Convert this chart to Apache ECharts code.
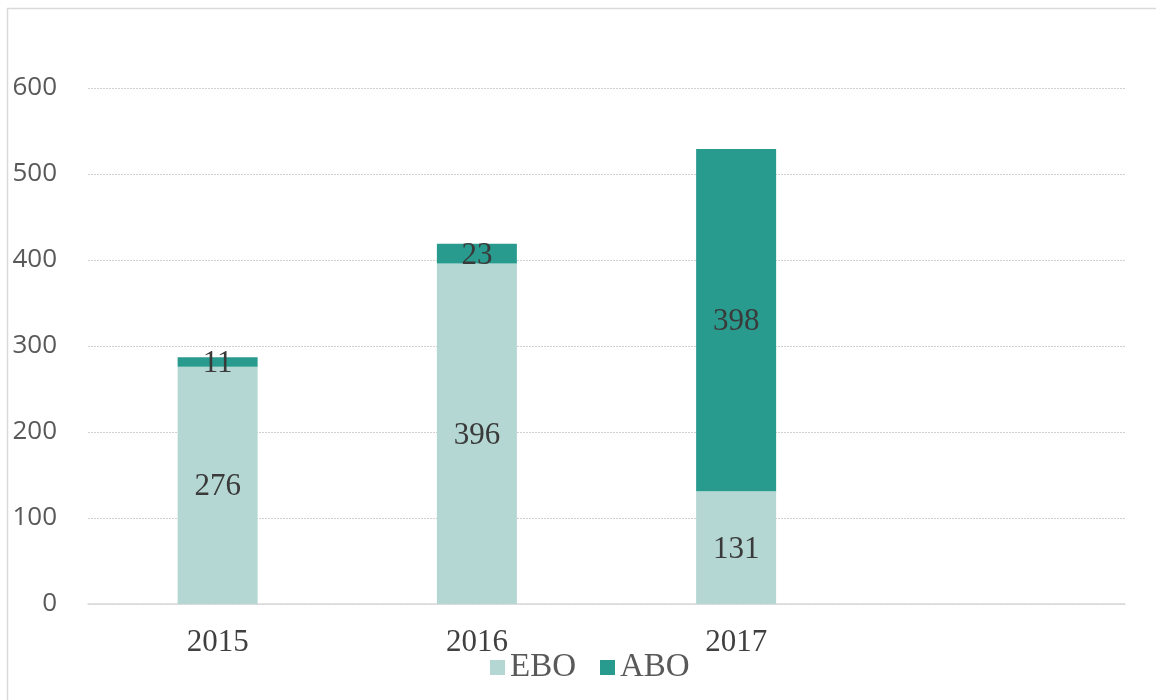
<!DOCTYPE html>
<html>
<head>
<meta charset="utf-8">
<script src="https://cdn.jsdelivr.net/npm/echarts@6/dist/echarts.min.js"></script>
<style>html,body{margin:0;padding:0;background:#fff;}#c{width:1156px;height:700px;}</style>
</head>
<body>
<div id="c"></div>
<script>
var categories = ['2015', '2016', '2017', ''];
var eboValues = [276, 396, 131, null];
var aboValues = [11, 23, 398, null];
var yTicks = [0, 100, 200, 300, 400, 500, 600];

var chart = echarts.init(document.getElementById('c'), null, {renderer: 'canvas'});
var serif = '"Liberation Serif", "Times New Roman", serif';
chart.setOption({
  animation: false,
  backgroundColor: '#ffffff',
  graphic: [{
    type: 'rect',
    shape: {x: 7.5, y: 8.5, width: 1200, height: 800},
    style: {fill: 'none', stroke: '#d9d9d9', lineWidth: 1.5},
    silent: true
  }],
  grid: {left: 88, right: 31, top: 88, bottom: 96, containLabel: false},
  legend: {
    data: ['EBO', 'ABO'],
    top: 651,
    left: 490,
    itemWidth: 15,
    itemHeight: 15,
    itemGap: 24,
    icon: 'rect',
    padding: 0,
    textStyle: {fontFamily: serif, fontSize: 33, color: '#595959', padding: [2, 0, 0, 0]}
  },
  xAxis: {
    type: 'category',
    data: categories,
    axisTick: {show: false},
    axisLine: {show: true, lineStyle: {color: '#d9d9d9', width: 1.5}},
    axisLabel: {fontFamily: serif, fontSize: 31, color: '#404040', margin: 23}
  },
  yAxis: {
    type: 'value',
    min: 0,
    max: 600,
    interval: 100,
    axisLine: {show: false},
    axisTick: {show: false},
    axisLabel: {
      fontFamily: '"Open Sans", "Noto Sans", sans-serif', fontSize: 26, color: '#595959', margin: 31,
      formatter: function (v) { return yTicks.indexOf(v) >= 0 ? String(v) : ''; }
    },
    splitLine: {lineStyle: {color: '#d0d0d0', type: [2, 1], width: 1.2}}
  },
  series: [
    {
      name: 'EBO', type: 'bar', stack: 'total', data: eboValues,
      barWidth: 80,
      itemStyle: {color: '#b4d7d3'},
      label: {show: true, position: 'inside', offset: [0, 2], fontFamily: serif, fontSize: 31, color: '#3a3a3a'}
    },
    {
      name: 'ABO', type: 'bar', stack: 'total', data: aboValues,
      barWidth: 80,
      itemStyle: {color: '#289b8e'},
      label: {show: true, position: 'inside', offset: [0, 2], fontFamily: serif, fontSize: 31, color: '#3a3a3a'}
    }
  ]
});
</script>
</body>
</html>
